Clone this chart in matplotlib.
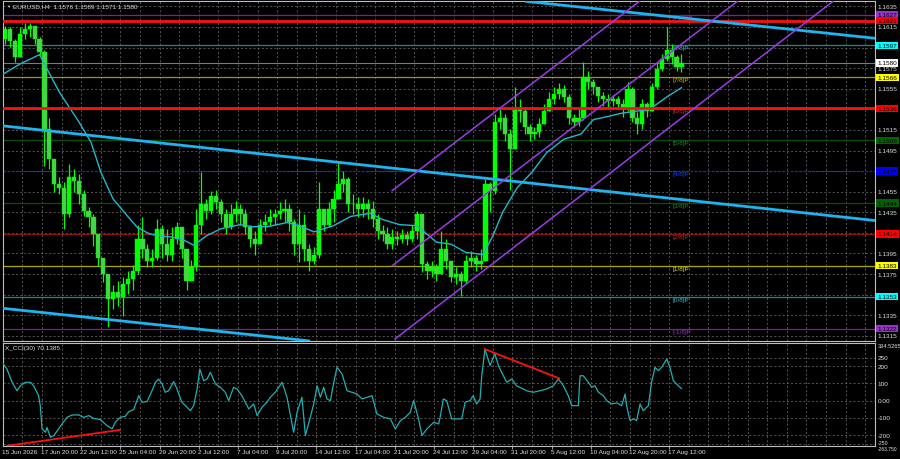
import numpy as np
import matplotlib.pyplot as plt
from matplotlib.transforms import blended_transform_factory

plt.rcParams['font.family'] = ['Liberation Sans', 'DejaVu Sans']

# EURUSD H4, one candle, prices * 10000
first_open = 11603
closes = [11613, 11601, 11586, 11608, 11613, 11616, 11603, 11591, 11516, 11487,
          11462, 11459, 11433, 11469, 11465, 11453, 11436, 11430, 11414, 11391,
          11375, 11351, 11358, 11353, 11365, 11370, 11378, 11409, 11399, 11388,
          11391, 11419, 11404, 11394, 11409, 11421, 11399, 11368, 11382, 11423,
          11443, 11436, 11451, 11445, 11433, 11421, 11433, 11438, 11433, 11421,
          11409, 11404, 11423, 11426, 11430, 11433, 11436, 11438, 11426, 11404,
          11423, 11399, 11388, 11394, 11438, 11423, 11438, 11448, 11462, 11467,
          11443, 11443, 11438, 11443, 11438, 11428, 11417, 11414, 11404, 11411,
          11409, 11413, 11409, 11417, 11433, 11385, 11378, 11382, 11375, 11399,
          11388, 11372, 11375, 11368, 11388, 11391, 11385, 11388, 11462, 11456,
          11523, 11527, 11511, 11496, 11535, 11533, 11518, 11511, 11513, 11521,
          11533, 11545, 11550, 11555, 11547, 11527, 11523, 11527, 11566, 11562,
          11557, 11548, 11545, 11543, 11545, 11540, 11535, 11555, 11527, 11521,
          11540, 11533, 11557, 11574, 11584, 11593, 11586, 11576, 11580]
highs = [11616, 11615, 11603, 11615, 11619, 11619, 11616, 11605, 11593, 11527,
         11487, 11469, 11464, 11482, 11477, 11472, 11457, 11440, 11433, 11411,
         11391, 11370, 11364, 11368, 11372, 11378, 11384, 11423, 11430, 11404,
         11399, 11428, 11423, 11419, 11421, 11426, 11421, 11399, 11389, 11438,
         11474, 11448, 11456, 11457, 11448, 11438, 11443, 11446, 11443, 11438,
         11423, 11417, 11428, 11433, 11438, 11438, 11445, 11448, 11443, 11428,
         11438, 11433, 11404, 11401, 11464, 11438, 11445, 11457, 11484, 11475,
         11469, 11453, 11450, 11450, 11448, 11446, 11433, 11423, 11421, 11419,
         11417, 11419, 11417, 11423, 11436, 11433, 11388, 11388, 11385, 11417,
         11409, 11388, 11382, 11378, 11394, 11397, 11394, 11399, 11467, 11464,
         11530, 11535, 11530, 11516, 11557, 11545, 11537, 11521, 11518, 11527,
         11540, 11552, 11557, 11561, 11559, 11550, 11530, 11535, 11581, 11572,
         11564, 11557, 11552, 11550, 11549, 11548, 11545, 11562, 11557, 11532,
         11545, 11542, 11561, 11581, 11589, 11615, 11598, 11588, 11589]
lows = [11598, 11596, 11581, 11586, 11603, 11605, 11598, 11587, 11480, 11477,
        11455, 11453, 11419, 11430, 11455, 11443, 11431, 11421, 11402, 11383,
        11367, 11324, 11341, 11344, 11334, 11356, 11360, 11375, 11391, 11382,
        11382, 11389, 11391, 11388, 11388, 11404, 11391, 11360, 11370, 11378,
        11414, 11428, 11433, 11438, 11426, 11414, 11419, 11426, 11423, 11414,
        11401, 11394, 11404, 11417, 11422, 11423, 11428, 11426, 11417, 11394,
        11387, 11388, 11378, 11385, 11391, 11417, 11421, 11426, 11448, 11455,
        11435, 11433, 11430, 11430, 11428, 11421, 11409, 11407, 11399, 11399,
        11403, 11405, 11403, 11406, 11409, 11377, 11370, 11372, 11368, 11375,
        11380, 11367, 11365, 11354, 11365, 11382, 11378, 11380, 11388, 11435,
        11453, 11516, 11504, 11457, 11496, 11523, 11511, 11504, 11506, 11508,
        11521, 11533, 11540, 11545, 11542, 11521, 11518, 11519, 11525, 11555,
        11550, 11542, 11538, 11537, 11538, 11535, 11528, 11533, 11523, 11511,
        11516, 11528, 11533, 11555, 11572, 11582, 11579, 11572, 11571]

# moving average (bar index, price * 10000)
ma_bar = [1, 8, 15, 16, 24, 32, 37, 41, 46, 52, 56, 61, 65, 70, 74, 79, 84, 90, 98, 103,
          109, 117, 122, 128, 136, 143, 151, 156, 163, 170, 178, 184, 190, 197, 201, 205,
          211, 217, 223, 230, 237, 242, 248, 253, 265, 272, 278]
ma_val = [11569, 11579, 11587, 11588, 11552, 11523, 11503, 11474, 11448, 11431, 11420,
          11414, 11412, 11411, 11409, 11403, 11412, 11419, 11423, 11421, 11421, 11425,
          11422, 11416, 11422, 11431, 11434, 11428, 11423, 11422, 11406, 11404, 11396,
          11394, 11412, 11435, 11459, 11474, 11493, 11506, 11511, 11525, 11528, 11531,
          11535, 11547, 11556]

# X_CCI(30)
cci_bar = [0.7, 2.7, 4.8, 6.8, 8.2, 10.2, 12.2, 13.6, 15.6, 16.3,
           17.0, 18.4, 19.0, 20.4, 21.8, 23.8, 25.2, 27.2, 29.3, 32.0,
           34.0, 36.1, 38.1, 40.8, 43.5, 45.6, 46.9, 49.0, 51.0, 52.4,
           54.4, 56.5, 57.8, 59.9, 61.9, 63.3, 64.6, 66.0, 67.3, 68.7,
           70.7, 72.1, 74.1, 76.2, 77.6, 78.9, 80.3, 81.4, 83.0, 84.4,
           85.7, 87.8, 89.8, 91.8, 93.2, 95.2, 96.6, 98.6, 101.4, 103.4,
           104.8, 106.8, 108.8, 110.2, 112.2, 115.0, 117.0, 118.4, 119.7, 121.1,
           123.1, 124.5, 126.5, 127.9, 129.3, 130.6, 132.0, 133.3, 134.7, 136.1,
           137.4, 139.5, 141.5, 143.5, 145.6, 147.6, 149.7, 151.7, 153.7, 156.5,
           159.2, 161.2, 163.3, 165.3, 167.3, 168.7, 170.7, 172.1, 174.1, 176.9,
           178.9, 179.5, 180.8, 182.2, 184.2, 186.3, 188.3, 189.7, 191.7, 193.0,
           194.4, 195.8, 196.5, 197.8, 199.9, 201.2, 201.9, 203.3, 204.6, 206.7,
           208.7, 210.7, 214.8, 217.5, 220.3, 223.0, 225.7, 227.8, 229.8, 231.8,
           233.2, 235.9, 236.6, 237.9, 240.0, 241.4, 242.7, 244.1, 246.1, 247.5,
           249.5, 251.6, 253.6, 255.0, 255.6, 257.0, 258.4, 259.7, 261.1, 262.4,
           264.5, 265.8, 267.2, 268.6, 269.9, 272.0, 273.3, 274.7, 276.0, 278.0]
cci_val = [223, 184, 107, 58, 87, 107, 107, 87, 29, -29,
           -164, -184, -155, -213, -203, -164, -135, -97, -83, -83,
           -97, -87, -103, -110, -145, -164, -126, -97, -91, -64,
           -52, 29, -9, -5, 58, 107, 126, 97, 49, 58,
           111, 68, -9, -38, -58, -29, 68, 184, 116, 126,
           165, 97, 78, 49, 0, 78, 68, 29, -48, -19,
           -87, -38, -9, 20, 49, 107, 20, -87, -184, -68,
           20, -203, -97, -19, 87, 20, 78, 10, 0, 107,
           194, 155, 58, 49, 39, 10, 20, 29, -77, -97,
           -106, -164, -116, -97, -68, 0, -106, -203, -164, -126,
           -135, -97, 10, 0, -106, -106, -106, -9, 0, 29,
           -19, 10, 145, 300, 204, 252, 271, 204, 165, 107,
           126, 87, 58, 49, 58, 68, 87, 126, 87, 29,
           -29, -29, 145, 145, 107, 78, 87, 49, 29, 0,
           -19, -13, -29, 39, -29, -116, -106, -116, -19, -58,
           -29, 107, 194, 175, 194, 242, 194, 116, 97, 70.1385]
cci_div_lines = [[(2.7, -263), (48.8, -170)], [(197.8, 300), (228.1, 130)]]

# levels
murray_lvl = [1.1627, 1.1597, 1.1566, 1.1536, 1.1505, 1.1475, 1.1444, 1.1414, 1.1383, 1.1353, 1.1322]
murray_name = ['[+1/8]P', '[8/8]P', '[7/8]P', '[6/8]P', '[5/8]P', '[4/8]P',
               '[3/8]P', '[2/8]P', '[1/8]P', '[0/8]P', '[-1/8]P']
red_lvl = [1.1621, 1.1536]
last_price = 1.1580
price_ticks = [1.1635, 1.1615, 1.1595, 1.1575, 1.1555, 1.1535, 1.1515, 1.1495, 1.1475,
               1.1455, 1.1435, 1.1415, 1.1395, 1.1375, 1.1355, 1.1335, 1.1315]
cci_ticks = [250, 200, 100, 0, -100, -200, -250]

# trend lines (bar, price)
blue_lines = [[(0.7, 1.1519), (357.0, 1.1427)],
              [(0.0, 1.1342), (126.4, 1.1310)],
              [(214.1, 1.1640), (357.0, 1.1604)]]
channel_lines = [[(159.9, 1.1456), (262.0, 1.1642)],
                 [(159.9, 1.1383), (302.0, 1.1642)],
                 [(161.1, 1.1312), (341.0, 1.1642)]]

date_bar = [1, 17, 33, 49, 65, 81, 97, 113, 129, 145, 161, 177, 193, 209, 225, 241, 257, 273]
date_txt = ['15 Jun 2026', '17 Jun 20:00', '22 Jun 12:00', '25 Jun 04:00', '29 Jun 20:00',
            '2 Jul 12:00', '7 Jul 04:00', '9 Jul 20:00', '14 Jul 12:00', '17 Jul 04:00',
            '21 Jul 20:00', '24 Jul 12:00', '29 Jul 04:00', '31 Jul 20:00', '5 Aug 12:00',
            '10 Aug 04:00', '12 Aug 20:00', '17 Aug 12:00']

# styles
line_col = ['#7a1fa0', '#178c96', '#9e9600', '#c01818', '#0b4f0b', '#1a2ac8',
            '#0b4f0b', '#8a1010', '#a8a800', '#178c96', '#7a1fa0']
name_col = ['#9b30d0', '#3ab8c8', '#c8b400', '#d03030', '#1e8a1e', '#2040ff',
            '#1e8a1e', '#c02828', '#d8d840', '#40b8c8', '#9b30d0']
box_col = ['#9932cc', '#00ffff', '#ffff00', '#ff0000', '#006400', '#0000ff',
           '#006400', '#ff0000', '#ffff00', '#00ffff', '#9932cc']
FS = 4.6
W, H = 900, 460

fig = plt.figure(figsize=(W / 100, H / 100), dpi=100, facecolor='black')


def px_axes(x0, y0, x1, y1):
    return fig.add_axes([x0 / W, 1 - y1 / H, (x1 - x0) / W, (y1 - y0) / H])


ax = px_axes(3, 2, 875, 342)
axc = px_axes(3, 344.2, 875, 447)

for a in (ax, axc):
    a.set_facecolor('black')
    a.set_xlim(1.08, 357.0)
    for s in a.spines.values():
        s.set_color('#bdbdbd')
        s.set_linewidth(0.8)
    a.set_yticks([])
    for b in range(1, 358, 8):
        a.axvline(b, color='#5e5e5e', lw=0.6, ls=(0, (2.5, 2.5)), zorder=0)
ax.set_xticks([])
ax.set_ylim(1.13100, 1.16402)
axc.set_ylim(-263.75, 334.5265)

tr = blended_transform_factory(ax.transAxes, ax.transData)
trc = blended_transform_factory(axc.transAxes, axc.transData)
xr = 1 + 2.5 / 872

# grid + axis labels, main
box_levels = murray_lvl + red_lvl + [last_price]
for p in price_ticks:
    ax.axhline(p, color='#5e5e5e', lw=0.6, ls=(0, (2.5, 2.5)), zorder=0)
    if min(abs(p - q) for q in box_levels) > 0.00035:
        ax.text(xr, p, f'{p:.4f}', transform=tr, color='#e0e0e0', fontsize=FS,
                va='center', ha='left', clip_on=False)

# murray lines
for lvl, nm, lc, nc, bc in zip(murray_lvl, murray_name, line_col, name_col, box_col):
    ls = (0, (2, 1.5)) if nm == '[4/8]P' else '-'
    ax.axhline(lvl, color=lc, lw=0.9, ls=ls, zorder=1)
    ax.text(274.2, lvl, nm, color=nc, fontsize=FS, va='top', ha='left', zorder=1)
    ax.text(xr, lvl, f'{lvl:.4f}', transform=tr, color='black', fontsize=FS, va='center',
            ha='left', clip_on=False, zorder=6,
            bbox=dict(boxstyle='square,pad=0.18', fc=bc, ec='none'))
for lvl in red_lvl:
    ax.axhline(lvl, color='#ff1010', lw=2.0, zorder=4)
    ax.text(xr, lvl, f'{lvl:.4f}', transform=tr, color='black', fontsize=FS, va='center',
            ha='left', clip_on=False, zorder=6,
            bbox=dict(boxstyle='square,pad=0.18', fc='#ff0000', ec='none'))
ax.axhline(last_price, color='#7a7a7a', lw=0.8, zorder=1)
ax.text(xr, last_price, f'{last_price:.4f}', transform=tr, color='black', fontsize=FS,
        va='center', ha='left', clip_on=False, zorder=7,
        bbox=dict(boxstyle='square,pad=0.18', fc='white', ec='none'))

# candles
c = np.array(closes) / 1e4
o = np.r_[first_open / 1e4, c[:-1]]
h = np.maximum(np.array(highs) / 1e4, np.maximum(o, c))
l = np.minimum(np.array(lows) / 1e4, np.minimum(o, c))
x = 2 + 2 * np.arange(len(c))
up = c >= o
ax.vlines(x, l, h, color='#00ff00', lw=0.9, zorder=2)
ax.bar(x, np.maximum(np.abs(c - o), 0.00003), bottom=np.minimum(o, c), width=1.75,
       color=np.where(up, '#00ff00', '#44d644'), edgecolor='#00ff00', linewidth=0.3, zorder=2)

# moving average
ax.plot(ma_bar, np.array(ma_val) / 1e4, color='#22b8cc', lw=1.0, zorder=3)

# trend lines and channel
for (b0, p0), (b1, p1) in blue_lines:
    ax.plot([b0, b1], [p0, p1], color='#1eb4f0', lw=2.0, zorder=4, solid_capstyle='butt')
for (b0, p0), (b1, p1) in channel_lines:
    ax.plot([b0, b1], [p0, p1], color='#9a3ce6', lw=1.1, zorder=4)

ax.text(3.5 / 872, 1 - 4.7 / 340, '\u25bc', transform=ax.transAxes, color='#d0d0d0',
        fontsize=3.2, va='center', ha='left')
ax.text(10 / 872, 1 - 4.7 / 340, 'EURUSD,H4  1.1576 1.1589 1.1571 1.1580', transform=ax.transAxes,
        color='#e0e0e0', fontsize=FS, va='center', ha='left')

# CCI panel
for v in cci_ticks:
    axc.axhline(v, color='#5e5e5e', lw=0.6, ls=(0, (2.5, 2.5)), zorder=0)
    if v == -250:
        continue
    lab = '0.00' if v == 0 else f'{v}'
    axc.text(xr, v, lab, transform=trc, color='#e0e0e0', fontsize=FS, va='center',
             ha='left', clip_on=False)
axc.text(xr, 334.5265, '334.5265', transform=trc, color='#e0e0e0', fontsize=4.1,
         va='top', ha='left', clip_on=False)
axc.text(xr, -244, '-250', transform=trc, color='#e0e0e0', fontsize=3.8,
         va='center', ha='left', clip_on=False)
axc.text(xr, -263.75, '-263.750', transform=trc, color='#e0e0e0', fontsize=3.6,
         va='top', ha='left', clip_on=False)
axc.plot(cci_bar, cci_val, color='#23aeb0', lw=0.9, zorder=3)
for (b0, v0), (b1, v1) in cci_div_lines:
    axc.plot([b0, b1], [v0, v1], color='#ff1010', lw=1.3, zorder=4)
axc.text(2 / 872, 1 - 4.3 / 102.8, 'X_CCI(30) 70.1385', transform=axc.transAxes,
         color='#e0e0e0', fontsize=FS, va='center', ha='left')

# date axis
axc.set_xticks(date_bar[1:])
axc.tick_params(axis='x', direction='out', length=2.5, width=0.6, color='#bdbdbd',
                labelbottom=False)
for b, t in zip(date_bar, date_txt):
    axc.text(b - 0.4, -6 / 102.8, t, transform=blended_transform_factory(axc.transData, axc.transAxes),
             color='#e0e0e0', fontsize=FS, va='center', ha='left', clip_on=False)

fig.savefig('out.png', dpi=100, facecolor='black')
